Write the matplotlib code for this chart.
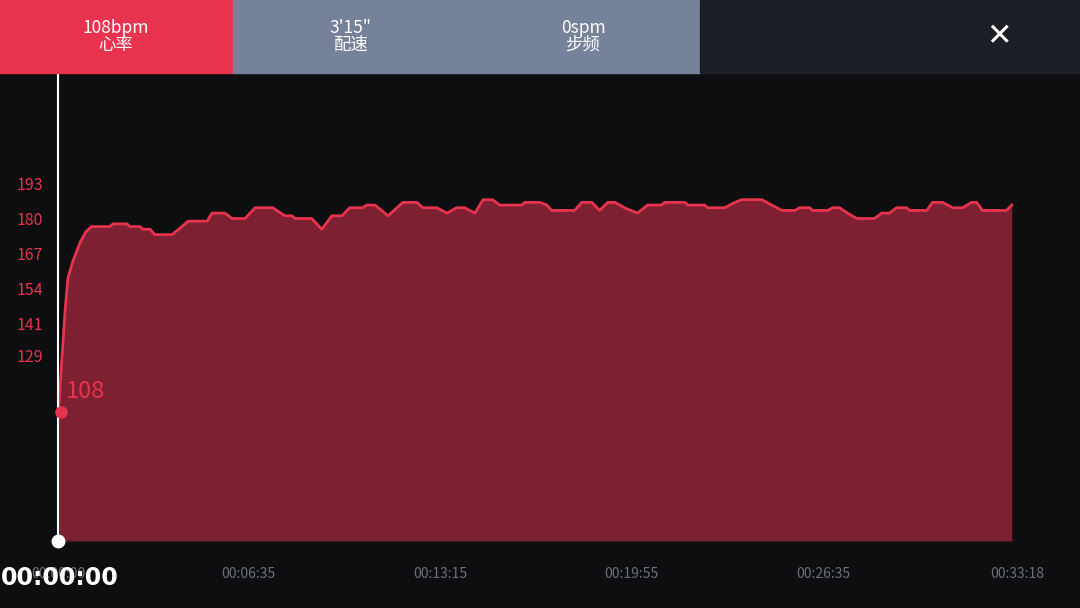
import matplotlib
matplotlib.use("Agg")
from matplotlib import pyplot as plt
from matplotlib.patches import Rectangle

plt.rcParams['font.family'] = ['Noto Sans CJK SC', 'DejaVu Sans']

# heart rate samples: time in seconds, bpm
times = [0, 14, 20, 30, 45, 57, 69, 107, 114, 143, 149, 170, 176, 191, 201, 237,
         264, 270, 310, 320, 347, 362, 389, 410, 447, 472, 487, 493, 528, 549,
         570, 591, 607, 634, 643, 660, 687, 718, 747, 760, 789, 810, 830, 847,
         868, 885, 905, 920, 966, 972, 1003, 1018, 1028, 1076, 1091, 1112, 1128,
         1145, 1160, 1180, 1207, 1228, 1257, 1264, 1305, 1312, 1347, 1353, 1389,
         1410, 1424, 1466, 1487, 1508, 1535, 1545, 1566, 1572, 1603, 1614, 1628,
         1645, 1664, 1701, 1716, 1732, 1747, 1768, 1774, 1810, 1822, 1843, 1864,
         1885, 1903, 1914, 1926, 1976, 1987]
bpm = [108, 146, 158, 164, 171, 175, 177, 177, 178, 178, 177, 177, 176, 176, 174, 174,
       178, 179, 179, 182, 182, 180, 180, 184, 184, 181, 181, 180, 180, 176,
       181, 181, 184, 184, 185, 185, 181, 186, 186, 184, 184, 182, 184, 184,
       182, 187, 187, 185, 185, 186, 186, 185, 183, 183, 186, 186, 183,
       186, 186, 184, 182, 185, 185, 186, 186, 185, 185, 184, 184,
       186, 187, 187, 185, 183, 183, 184, 184, 183, 183, 184, 184,
       182, 180, 180, 182, 182, 184, 184, 183, 183, 186, 186, 184,
       184, 186, 186, 183, 183, 185]

y_ticks = [129, 141, 154, 167, 180, 193]
x_ticks = [0, 395, 795, 1195, 1595, 1998]
x_labels = ["00:00:00", "00:06:35", "00:13:15", "00:19:55", "00:26:35", "00:33:18"]

tabs = [("108bpm", "心率"), ("3'15\"", "配速"), ("0spm", "步频")]

BG = "#0d0e10"
RED = "#e8334f"
FILL = "#7d2032"

fig = plt.figure(figsize=(10.8, 6.08), dpi=100)
fig.patch.set_facecolor(BG)

# top bar
W, H = 1080, 608
def px(x, y):
    return x / W, 1 - y / H

bar_y = 1 - 73 / H
fig.patches.append(Rectangle((0, bar_y), 233 / W, 73 / H, transform=fig.transFigure,
                             color=RED, zorder=0))
fig.patches.append(Rectangle((233 / W, bar_y), 467 / W, 73 / H, transform=fig.transFigure,
                             color="#76819a", zorder=0))
fig.patches.append(Rectangle((700 / W, bar_y), 380 / W, 73 / H, transform=fig.transFigure,
                             color="#1b1e25", zorder=0))
for cx, (top, bottom) in zip([116, 350, 583], tabs):
    fig.text(*px(cx, 28), top, color="white", fontsize=12.5, ha="center", va="center")
    fig.text(*px(cx, 45), bottom, color="white", fontsize=12.5, ha="center", va="center")
fig.text(*px(999, 37), "✕", color="white", fontsize=22, ha="center", va="center",
         family="DejaVu Sans")

# chart
ax = fig.add_axes([58.4 / W, 67 / H, 958.6 / W, 468 / H])
ax.set_facecolor(BG)
ax.set_xlim(0, 1998)
ax.set_ylim(60, 60 + 468 / 2.6875)
ax.fill_between(times, bpm, 60, color=FILL, lw=0)
ax.plot(times, bpm, color=RED, lw=2)
ax.axhline(60, color="#3a2228", lw=1)
ax.axvline(0, color="white", lw=1.5, clip_on=False)
ax.plot([0], [60], "o", color="white", ms=9, clip_on=False, zorder=5)
ax.plot([times[0] + 5], [bpm[0]], "o", color=RED, ms=8, clip_on=False, zorder=5)
ax.text(times[0] + 15, bpm[0] + 7.5, str(bpm[0]), color=RED, fontsize=17,
        ha="left", va="center")

for s in ax.spines.values():
    s.set_visible(False)
ax.set_yticks(y_ticks)
ax.set_yticklabels([str(v) for v in y_ticks])
ax.set_xticks(x_ticks)
ax.set_xticklabels(x_labels)
ax.tick_params(axis="y", colors=RED, labelsize=11.5, length=0, pad=11)
ax.tick_params(axis="x", colors="#6b6f78", labelsize=10, length=0, pad=19)

fig.text(*px(1, 578), "00:00:00", color="white", fontsize=17, fontweight="bold",
         ha="left", va="center", family="DejaVu Sans")

fig.savefig("out.png", dpi=100, facecolor=BG)
